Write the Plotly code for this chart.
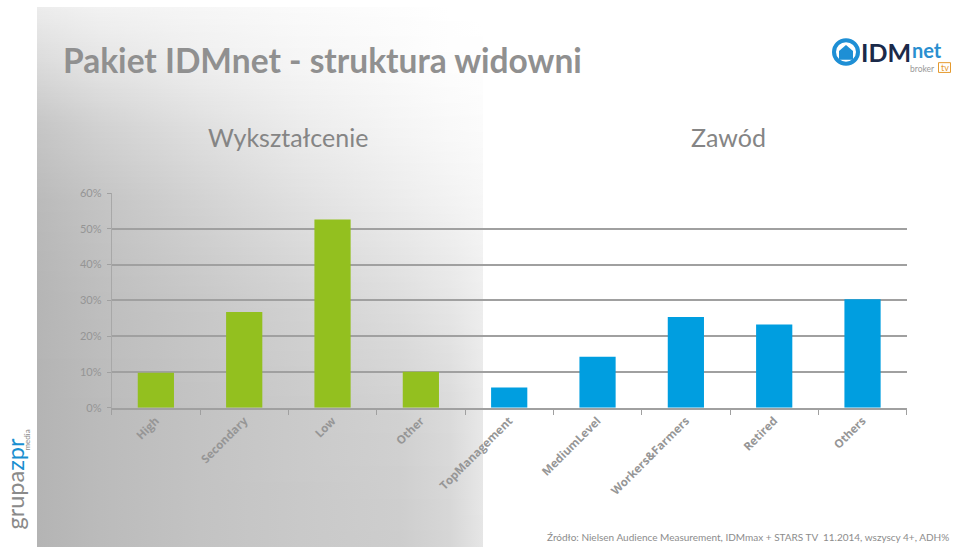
import base64
import plotly.graph_objects as go

W, H = 959, 553

# ---- data ----
categories = ["High", "Secondary", "Low", "Other",
              "TopManagement", "MediumLevel", "Workers&Farmers", "Retired", "Others"]
values = [0.098, 0.268, 0.526, 0.101, 0.057, 0.143, 0.254, 0.233, 0.303]
groups = ["edu", "edu", "edu", "edu", "job", "job", "job", "job", "job"]
group_colors = {"edu": "#93c01f", "job": "#009ee0"}
y_ticks = [0, 0.1, 0.2, 0.3, 0.4, 0.5, 0.6]
y_tick_labels = ["0%", "10%", "20%", "30%", "40%", "50%", "60%"]

# background gradient panel (gray levels, rows from top to bottom), decoration only
PANEL_X0, PANEL_X1 = 37, 483
bg_x = [37, 100, 200, 300, 400, 450, 483]
bg_y = [0, 60, 120, 200, 300, 420, 553]
bg_z = [
    [236, 242, 246, 250, 253, 255, 255],
    [218, 228, 238, 245, 250, 253, 254],
    [198, 210, 224, 236, 245, 249, 251],
    [186, 196, 210, 224, 236, 242, 246],
    [181, 190, 200, 210, 222, 230, 238],
    [180, 187, 195, 202, 209, 218, 232],
    [180, 187, 195, 201, 205, 214, 230],
]


def px(x):
    return x / W


def py(y):
    return 1 - y / H


def _interp(xs, vs, x):
    if x <= xs[0]:
        return vs[0]
    for i in range(1, len(xs)):
        if x <= xs[i]:
            t = (x - xs[i - 1]) / (xs[i] - xs[i - 1])
            return vs[i - 1] + t * (vs[i] - vs[i - 1])
    return vs[-1]


def panel_svg():
    pw = PANEL_X1 - PANEL_X0
    band = 2
    defs, rects = [], []
    nb = (H + band - 1) // band
    for k in range(nb):
        yc = k * band + band / 2
        stops = []
        for j, xv in enumerate(bg_x):
            col = [bg_z[i][j] for i in range(len(bg_y))]
            g = int(round(_interp(bg_y, col, yc)))
            off = (xv - PANEL_X0) / pw
            stops.append('<stop offset="%.4f" stop-color="rgb(%d,%d,%d)"/>' % (off, g, g, g))
        defs.append('<linearGradient id="g%d" x1="0" y1="0" x2="1" y2="0">%s</linearGradient>'
                    % (k, "".join(stops)))
        rects.append('<rect x="0" y="%d" width="%d" height="%d" fill="url(#g%d)"/>'
                     % (k * band, pw, band + 1, k))
    svg = ('<svg xmlns="http://www.w3.org/2000/svg" width="%d" height="%d" '
           'viewBox="0 0 %d %d" preserveAspectRatio="none"><defs>%s</defs>%s</svg>'
           % (pw, H, pw, H, "".join(defs), "".join(rects)))
    return "data:image/svg+xml;base64," + base64.b64encode(svg.encode()).decode()


fig = go.Figure()

fig.add_trace(go.Bar(
    x=categories, y=values,
    marker=dict(color=[group_colors[g] for g in groups], line=dict(width=0)),
    hoverinfo="skip"))

x0, x1 = 111.7, 906.7
y0, y1 = 410.5, 190.5

fig.update_layout(
    width=W, height=H,
    margin=dict(l=0, r=0, t=0, b=0),
    paper_bgcolor="white", plot_bgcolor="rgba(0,0,0,0)",
    showlegend=False,
    bargap=0.59,
    xaxis=dict(domain=[px(x0), px(x1)], range=[-0.5, 8.5],
               showline=True, linecolor="#a0a0a0", linewidth=1.5,
               ticks="outside", tickson="boundaries", ticklen=5, tickcolor="#a0a0a0",
               tickangle=-45, showgrid=False,
               tickfont=dict(family="Open Sans", size=11.5, color="#969696", weight="bold")),
    yaxis=dict(domain=[py(y0), py(y1)], range=[0, 0.6],
               tickvals=y_ticks, ticktext=y_tick_labels,
               showline=True, linecolor="#a8a8a8", linewidth=1,
               ticks="outside", ticklen=4, tickcolor="#a0a0a0",
               ticklabelstandoff=3,
               showgrid=True, gridcolor="#a0a0a0", gridwidth=1.5,
               zeroline=False,
               tickfont=dict(family="Lato", size=11, color="#959595")),
    images=[dict(source=panel_svg(), xref="paper", yref="paper",
                 x=px(PANEL_X0), y=1, sizex=(PANEL_X1 - PANEL_X0) / W, sizey=1,
                 xanchor="left", yanchor="top", sizing="stretch", layer="below")],
)

ann = []
ann.append(dict(text="<b>Pakiet IDMnet - struktura widowni</b>", x=px(61), y=py(54),
                xanchor="left", yanchor="middle",
                font=dict(family="Lato", size=33.5, color="#909090")))
ann.append(dict(text="Wykształcenie", x=px(287.5), y=py(133), xanchor="center", yanchor="middle",
                font=dict(family="Lato", size=25, color="#858585")))
ann.append(dict(text="Zawód", x=px(728.5), y=py(133), xanchor="center", yanchor="middle",
                font=dict(family="Lato", size=25, color="#858585")))
ann.append(dict(text="Źródło: Nielsen Audience Measurement, IDMmax + STARS TV  11.2014, wszyscy 4+, ADH%",
                x=px(951), y=py(543), xanchor="right", yanchor="middle",
                font=dict(family="Lato", size=10, color="#8c8c8c")))
# side logo
ann.append(dict(text="grupa<span style='color:#1a8fd0'>zpr</span>", x=px(15), y=py(488),
                xanchor="center", yanchor="middle", textangle=-90,
                font=dict(family="Lato", size=23.5, color="#8a8a8a")))
ann.append(dict(text="media", x=px(27), y=py(444), xanchor="center", yanchor="middle", textangle=-90,
                font=dict(family="Lato", size=8, color="#8a8a8a")))
# top-right logo
ann.append(dict(text="<b>IDM</b>", x=px(859), y=py(46), xanchor="left", yanchor="middle",
                font=dict(family="Lato", size=25, color="#1b2a4a")))
ann.append(dict(text="<b>net</b>", x=px(910), y=py(44.5), xanchor="left", yanchor="middle",
                font=dict(family="Lato", size=20, color="#2a8fd0")))
ann.append(dict(text="broker", x=px(937), y=py(63.5), xanchor="right", yanchor="middle",
                font=dict(family="Lato", size=8.5, color="#9a9a9a")))
ann.append(dict(text="tv", x=px(944.5), y=py(62), xanchor="center", yanchor="middle",
                font=dict(family="Lato", size=9, color="#e59a2e")))
for a in ann:
    a.update(xref="paper", yref="paper", showarrow=False)
fig.update_layout(annotations=ann)

shapes = [
    dict(type="circle", xref="paper", yref="paper", x0=px(834), x1=px(858), y0=py(58), y1=py(34),
         line=dict(color="#1e8fd5", width=4), fillcolor="rgba(0,0,0,0)"),
    dict(type="path", xref="paper", yref="paper",
         path="M {} {} L {} {} L {} {} L {} {} L {} {} Z".format(
             px(839), py(54), px(839), py(45), px(846), py(39), px(853), py(45), px(853), py(54)),
         line=dict(width=0), fillcolor="#1e8fd5"),
    dict(type="rect", xref="paper", yref="paper", x0=px(938.5), x1=px(950.5), y0=py(67), y1=py(57),
         line=dict(color="#e59a2e", width=1), fillcolor="rgba(0,0,0,0)"),
]
fig.update_layout(shapes=shapes)

fig.write_html("out.html")
